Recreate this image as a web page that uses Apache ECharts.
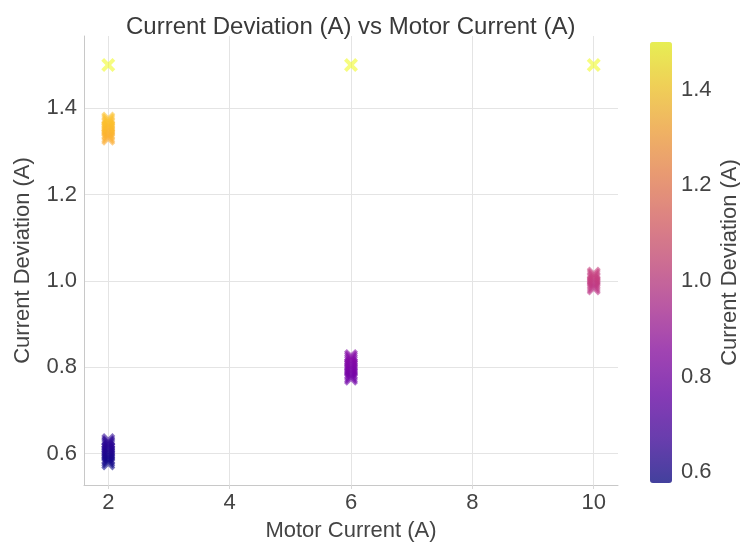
<!DOCTYPE html>
<html><head><meta charset="utf-8">
<script src="https://cdn.jsdelivr.net/npm/echarts@6/dist/echarts.min.js"></script>
<style>html,body{margin:0;padding:0;background:#fff}#c{width:740px;height:544px}</style>
</head><body><div id="c"></div>
<script>
// Data
const lowAt2 = [0.577,0.582,0.586,0.589,0.594,0.598,0.601,0.606,0.611,0.614,0.619,0.623,0.626,0.631];
const highAt2 = [1.329,1.333,1.338,1.341,1.346,1.351,1.355,1.358,1.363,1.367,1.372,1.376];
const at6 = [0.773,0.777,0.782,0.786,0.791,0.795,0.799,0.804,0.808,0.813,0.817,0.822,0.826];
const at10 = [0.982,0.986,0.991,0.995,0.999,1.004,1.008,1.013,1.017];
const peakCurrents = [2,6,10];
const peakDeviation = [1.5,1.5,1.5];
const xTicks = [2,4,6,8,10];
const yTicks = [0.6,0.8,1.0,1.2,1.4];
const cbarTicks = [0.6,0.8,1.0,1.2,1.4];
const colorMin = 0.577, colorMax = 1.5;
const plasma = ['#0d0887','#41049d','#6a00a8','#8f0da4','#b12a90','#cc4778','#e16462','#f2844b','#fca636','#fcce25','#f0f921'];

function rgba(hex,a){const n=parseInt(hex.slice(1),16);return 'rgba('+(n>>16)+','+((n>>8)&255)+','+(n&255)+','+a+')';}
const plasmaA = plasma.map(c=>rgba(c,0.72));
const points = []
  .concat(lowAt2.map(v=>[2,v]))
  .concat(highAt2.map(v=>[2,v]))
  .concat(at6.map(v=>[6,v]))
  .concat(at10.map(v=>[10,v]))
  .concat(peakCurrents.map((x,i)=>[x,peakDeviation[i]]));

const FONT = 'Liberation Sans';
const TXT = '#444';
const chart = echarts.init(document.getElementById('c'),null,{renderer:'canvas'});
chart.setOption({
  backgroundColor:'#fff',
  animation:false,
  textStyle:{fontFamily:FONT},
  title:{text:'Current Deviation (A) vs Motor Current (A)',left:121,top:10,
    textStyle:{fontFamily:FONT,fontSize:24,fontWeight:'normal',color:'#3a3a3a'}},
  grid:[
    {left:84,right:122,top:36,bottom:59,containLabel:false,outerBoundsMode:'none'},
    {left:650,top:42,width:22,height:441,containLabel:false,outerBoundsMode:'none'}
  ],
  xAxis:[
    {type:'value',gridIndex:0,min:1.6,max:10.4,
      name:'Motor Current (A)',nameLocation:'middle',nameGap:35,
      nameTextStyle:{fontFamily:FONT,fontSize:22,color:TXT},
      axisLine:{show:true,lineStyle:{color:'#c8c8c8',width:1}},
      axisTick:{show:true,length:4,lineStyle:{color:'#d8d8d8'},customValues:xTicks},
      axisLabel:{customValues:xTicks,fontFamily:FONT,fontSize:22,color:TXT,margin:7},
      splitLine:{show:true,lineStyle:{color:'#e4e4e4',width:1}}},
    {type:'value',gridIndex:1,min:0,max:1,show:false}
  ],
  yAxis:[
    {type:'value',gridIndex:0,min:0.527,max:1.567,
      name:'Current Deviation (A)',nameLocation:'middle',nameGap:50,nameRotate:90,
      nameTextStyle:{fontFamily:FONT,fontSize:22,color:TXT},
      axisLine:{show:true,lineStyle:{color:'#c8c8c8',width:1}},
      axisTick:{show:false,customValues:yTicks},
      axisLabel:{customValues:yTicks,fontFamily:FONT,fontSize:22,color:TXT,margin:7,
        formatter:v=>v.toFixed(1)},
      splitLine:{show:true,lineStyle:{color:'#e4e4e4',width:1}}},
    {type:'value',gridIndex:1,min:colorMin,max:colorMax,position:'right',
      name:'Current Deviation (A)',nameLocation:'middle',nameGap:47,nameRotate:90,
      nameTextStyle:{fontFamily:FONT,fontSize:22,color:TXT},
      axisLine:{show:false},axisTick:{show:false,customValues:cbarTicks},
      axisLabel:{customValues:cbarTicks,fontFamily:FONT,fontSize:22,color:TXT,margin:9,
        formatter:v=>v.toFixed(1)},
      splitLine:{show:false}}
  ],
  visualMap:{type:'continuous',dimension:1,seriesIndex:0,min:colorMin,max:colorMax,
    orient:'vertical',left:650,top:42,itemWidth:22,itemHeight:441,padding:0,
    calculable:false,hoverLink:false,text:null,showLabel:false,
    inRange:{color:plasmaA}},
  series:[{
    type:'scatter',xAxisIndex:0,yAxisIndex:0,
    symbol:'path://M0,2 L2,0 L5,3 L8,0 L10,2 L7,5 L10,8 L8,10 L5,7 L2,10 L0,8 L3,5 Z',
    symbolSize:14,
    data:points
  }]
});
</script></body></html>
